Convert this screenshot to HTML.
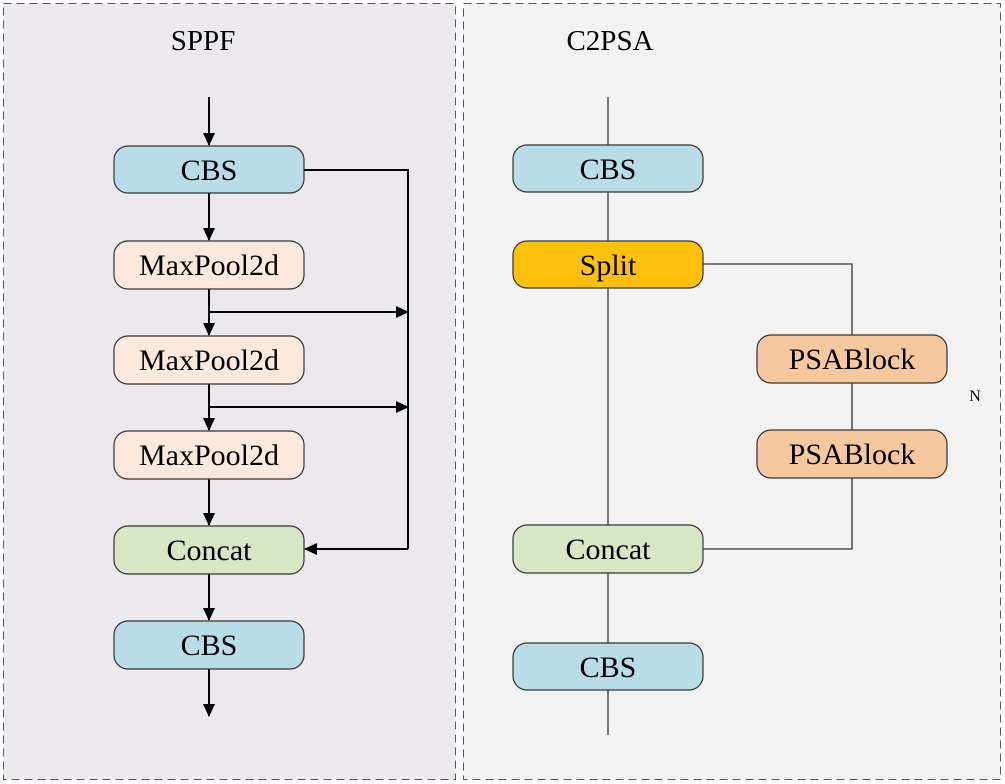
<!DOCTYPE html>
<html><head><meta charset="utf-8"><style>
html,body{margin:0;padding:0;background:#fff;}
svg{display:block;}
text{font-family:"Liberation Serif",serif;}
</style></head><body>
<svg width="1005" height="784" viewBox="0 0 1005 784" xmlns="http://www.w3.org/2000/svg">
<defs>
<marker id="a" markerWidth="13" markerHeight="12" refX="12" refY="6" orient="auto" markerUnits="userSpaceOnUse">
<path d="M0,0 L13,6 L0,12 Z" fill="#000"/></marker>
</defs>
<rect x="3.5" y="3.5" width="452" height="776" fill="#ebe8ee" stroke="#555" stroke-dasharray="8,5"/>
<rect x="463.5" y="3.5" width="537" height="776" fill="#f2f2f2" stroke="#555" stroke-dasharray="8,5"/>
<text x="203" y="50" font-size="29" text-anchor="middle">SPPF</text>
<text x="610" y="50" font-size="29" text-anchor="middle">C2PSA</text>

<g stroke="#000" stroke-width="2" fill="none">
<line x1="209" y1="97" x2="209" y2="145" marker-end="url(#a)"/>
<line x1="209" y1="193" x2="209" y2="240" marker-end="url(#a)"/>
<line x1="209" y1="289" x2="209" y2="335" marker-end="url(#a)"/>
<line x1="209" y1="384" x2="209" y2="430" marker-end="url(#a)"/>
<line x1="209" y1="479" x2="209" y2="525" marker-end="url(#a)"/>
<line x1="209" y1="574" x2="209" y2="620" marker-end="url(#a)"/>
<line x1="209" y1="669" x2="209" y2="716" marker-end="url(#a)"/>
<polyline points="304,170 408,170 408,549"/>
<line x1="209" y1="312" x2="408" y2="312" marker-end="url(#a)"/>
<line x1="209" y1="407" x2="408" y2="407" marker-end="url(#a)"/>
<line x1="408" y1="549" x2="305" y2="549" marker-end="url(#a)"/>
</g>
<g stroke="#333" stroke-width="1.3" fill="none">
<line x1="608" y1="97" x2="608" y2="735"/>
<polyline points="703,264 852,264 852,549 703,549"/>
</g>

<g stroke="#333" stroke-width="1.2">
<rect x="114" y="146" width="190" height="47" rx="14" fill="#b8dde7"/>
<rect x="114" y="241" width="190" height="48" rx="14" fill="#fbe9dd"/>
<rect x="114" y="336" width="190" height="48" rx="14" fill="#fbe9dd"/>
<rect x="114" y="431" width="190" height="48" rx="14" fill="#fbe9dd"/>
<rect x="114" y="526" width="190" height="48" rx="14" fill="#d7e6c5"/>
<rect x="114" y="621" width="190" height="48" rx="14" fill="#b8dde7"/>
<rect x="513" y="145" width="190" height="47" rx="14" fill="#b8dde7"/>
<rect x="513" y="241" width="190" height="47" rx="14" fill="#fdc10d"/>
<rect x="757" y="335" width="190" height="48" rx="14" fill="#f7c7a0"/>
<rect x="757" y="430" width="190" height="48" rx="14" fill="#f7c7a0"/>
<rect x="513" y="525" width="190" height="48" rx="14" fill="#d7e6c5"/>
<rect x="513" y="643" width="190" height="47" rx="14" fill="#b8dde7"/>
</g>
<g font-size="30" text-anchor="middle" fill="#000">
<text x="209" y="180">CBS</text>
<text x="209" y="275">MaxPool2d</text>
<text x="209" y="370">MaxPool2d</text>
<text x="209" y="465">MaxPool2d</text>
<text x="209" y="560">Concat</text>
<text x="209" y="655">CBS</text>
<text x="608" y="179">CBS</text>
<text x="608" y="275">Split</text>
<text x="852" y="369">PSABlock</text>
<text x="852" y="464">PSABlock</text>
<text x="608" y="559">Concat</text>
<text x="608" y="677">CBS</text>
<text x="975" y="401" font-size="16">N</text>
</g>
</svg>
</body></html>
